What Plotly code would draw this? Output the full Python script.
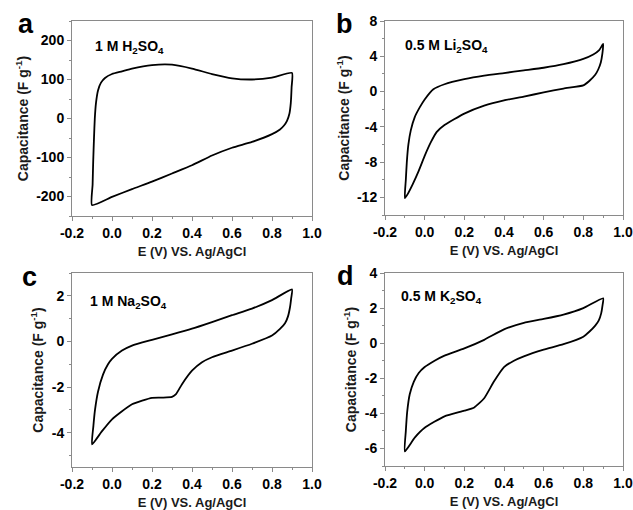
import plotly.graph_objects as go

# ---- data ----
# Panel a: 1 M H2SO4
a_x = [-0.1, -0.097, -0.094, -0.09, -0.086, -0.08, -0.07, -0.055, -0.035, 0.0, 0.05, 0.1, 0.2, 0.3, 0.4, 0.5, 0.6, 0.7, 0.8, 0.9,
       0.898, 0.894, 0.887, 0.875, 0.86, 0.84, 0.8, 0.7, 0.6, 0.5, 0.4, 0.3, 0.2, 0.1, 0.0, -0.1]
a_y = [-222, -170, -110, -50, 0, 40, 72, 92, 104, 114, 121, 128, 137, 138, 128, 114, 103, 100, 105, 117,
       80, 40, 12, -6, -18, -28, -40, -60, -75, -95, -120, -141, -162, -181, -201, -222]

# Panel b: 0.5 M Li2SO4
b_x = [-0.1, -0.095, -0.09, -0.082, -0.07, -0.05, -0.025, 0.0, 0.044, 0.1, 0.2, 0.3, 0.4, 0.5, 0.6, 0.7, 0.8, 0.85, 0.88, 0.9,
       0.896, 0.888, 0.875, 0.86, 0.83, 0.8, 0.7, 0.6, 0.5, 0.4, 0.3, 0.2, 0.1, 0.06, 0.03, 0.0, -0.03, -0.06, -0.085, -0.1]
b_y = [-12.1, -10.0, -8.0, -6.0, -4.4, -2.9, -1.8, -0.9, 0.26, 0.83, 1.4, 1.8, 2.1, 2.4, 2.7, 3.1, 3.7, 4.2, 4.7, 5.4,
       4.3, 3.3, 2.5, 1.9, 1.2, 0.7, 0.34, -0.1, -0.57, -1.0, -1.6, -2.5, -3.8, -4.6, -5.8, -7.3, -9.0, -10.5, -11.6, -12.1]

# Panel c: 1 M Na2SO4
c_x = [-0.1, -0.093, -0.085, -0.07, -0.045, -0.02, 0.0, 0.05, 0.1, 0.2, 0.3, 0.4, 0.5, 0.6, 0.7, 0.8, 0.9,
       0.896, 0.89, 0.88, 0.865, 0.84, 0.8, 0.7, 0.6, 0.5, 0.45, 0.4, 0.35, 0.32, 0.3, 0.25, 0.2, 0.1, 0.0, -0.05, -0.1]
c_y = [-4.51, -3.7, -3.0, -2.2, -1.45, -1.0, -0.76, -0.4, -0.18, 0.07, 0.31, 0.56, 0.85, 1.15, 1.44, 1.81, 2.28,
       1.9, 1.5, 1.1, 0.8, 0.55, 0.26, -0.1, -0.4, -0.69, -0.91, -1.28, -1.87, -2.31, -2.43, -2.46, -2.47, -2.75, -3.41, -3.93, -4.51]

# Panel d: 0.5 M K2SO4
d_x = [-0.1, -0.095, -0.088, -0.075, -0.055, -0.03, 0.0, 0.05, 0.1, 0.2, 0.3, 0.4, 0.5, 0.6, 0.7, 0.8, 0.9,
       0.896, 0.89, 0.878, 0.86, 0.83, 0.8, 0.7, 0.6, 0.5, 0.45, 0.4, 0.35, 0.3, 0.25, 0.2, 0.1, 0.0, -0.05, -0.1]
d_y = [-6.17, -5.0, -3.9, -2.9, -2.2, -1.7, -1.36, -1.0, -0.71, -0.3, 0.19, 0.79, 1.16, 1.38, 1.63, 2.0, 2.56,
       2.1, 1.7, 1.3, 1.0, 0.65, 0.37, -0.06, -0.37, -0.75, -1.0, -1.36, -2.17, -3.14, -3.66, -3.85, -4.17, -4.82, -5.38, -6.17]

letters = ["a", "b", "c", "d"]
electrolytes = ["1 M H<sub>2</sub>SO<sub>4</sub>", "0.5 M Li<sub>2</sub>SO<sub>4</sub>",
                "1 M Na<sub>2</sub>SO<sub>4</sub>", "0.5 M K<sub>2</sub>SO<sub>4</sub>"]
x_tickvals = [-0.2, 0.0, 0.2, 0.4, 0.6, 0.8, 1.0]
x_ticktext = ["-0.2", "0.0", "0.2", "0.4", "0.6", "0.8", "1.0"]
y_tickvals = [[-200, -100, 0, 100, 200], [-12, -8, -4, 0, 4, 8], [-4, -2, 0, 2], [-6, -4, -2, 0, 2, 4]]
y_ticktext = [["-200", "-100", "0", "100", "200"], ["-12", "-8", "-4", "0", "4", "8"],
              ["-4", "-2", "0", "2"], ["-6", "-4", "-2", "0", "2", "4"]]
y_ranges = [[-250, 250], [-14, 8], [-5.5, 3], [-7, 4]]
y_minor = [50, 2, 1, 1]
x_title = "E (V) VS. Ag/AgCl"
y_title = "Capacitance (F g<sup>-1</sup>)"

# ---- layout geometry (pixels) ----
W, H = 633, 510
boxes = [(72, 312, 21, 216), (385, 623, 21, 215), (72, 312, 273, 467), (385, 623, 273, 466)]
letter_pos = [(26, 24), (344, 24), (29, 277), (345, 276)]
label_pos = [(93, 47), (403, 46), (88, 302), (399, 297)]

fig = go.Figure()
data = [(a_x, a_y), (b_x, b_y), (c_x, c_y), (d_x, d_y)]
font_family = "Liberation Sans, Arial, sans-serif"
title_color = "#1a1a1a"

for i, (xs, ys) in enumerate(data):
    n = "" if i == 0 else str(i + 1)
    fig.add_trace(go.Scatter(x=xs, y=ys, mode="lines", xaxis="x" + n, yaxis="y" + n,
                             line=dict(color="black", width=1.8, shape="spline", smoothing=0.5),
                             showlegend=False, hoverinfo="skip"))
    l, r, t, b = boxes[i]
    ax_common = dict(showline=True, mirror=True, linecolor="#8a8a8a", linewidth=1, automargin=False,
                     ticks="outside", ticklen=4, tickcolor="#8a8a8a", showgrid=False, zeroline=False,
                     tickfont=dict(family=font_family, size=14, color="black", weight="bold"))
    fig.update_layout(**{
        "xaxis" + n: dict(domain=[l / W, r / W], anchor="y" + n, range=[-0.2, 1.0],
                          tickmode="array", tickvals=x_tickvals, ticktext=x_ticktext,
                          minor=dict(ticks="outside", ticklen=2, tickcolor="#8a8a8a", dtick=0.1, tick0=0),
                          title=dict(text=x_title, standoff=7,
                                     font=dict(family=font_family, size=13, color=title_color, weight="bold")),
                          **ax_common),
        "yaxis" + n: dict(domain=[1 - b / H, 1 - t / H], anchor="x" + n, range=y_ranges[i],
                          tickmode="array", tickvals=y_tickvals[i], ticktext=y_ticktext[i],
                          minor=dict(ticks="outside", ticklen=2, tickcolor="#8a8a8a", dtick=y_minor[i], tick0=0),
                          title=dict(text=y_title, standoff=4,
                                     font=dict(family=font_family, size=14, color=title_color, weight="bold")),
                          **ax_common),
    })
    lx, ly = letter_pos[i]
    fig.add_annotation(x=lx / W, y=1 - ly / H, xref="paper", yref="paper",
                       text="<b>%s</b>" % letters[i], showarrow=False, xanchor="center", yanchor="middle",
                       font=dict(family=font_family, size=27, color="black"))
    px, py = label_pos[i]
    fig.add_annotation(x=px / W, y=1 - py / H, xref="paper", yref="paper",
                       text="<b>%s</b>" % electrolytes[i], showarrow=False, xanchor="left", yanchor="middle",
                       font=dict(family=font_family, size=14, color="black"))

fig.update_layout(width=W, height=H, margin=dict(l=0, r=0, t=0, b=0),
                  paper_bgcolor="white", plot_bgcolor="white")
fig.write_html("out.html", config={"displayModeBar": False},
               post_script="document.body.style.margin='0';")
